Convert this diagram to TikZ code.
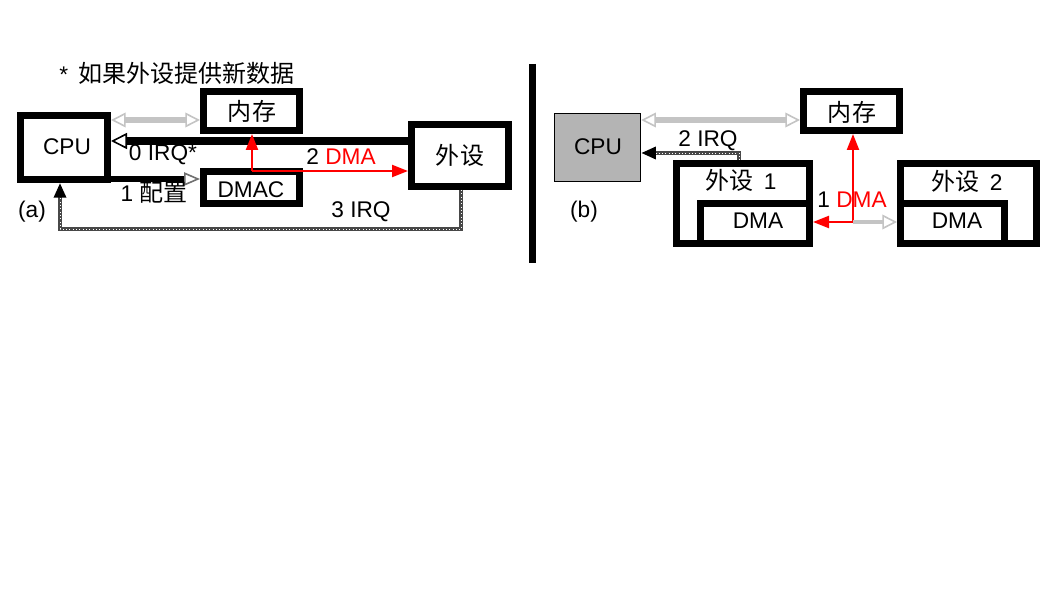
\documentclass[tikz,border=0pt]{standalone}
\usepackage{fontspec}
\setmainfont{Liberation Sans}
\newfontfamily\cjk[Scale=1.06]{Noto Sans CJK SC}
\usetikzlibrary{arrows.meta,calc,fit}
\definecolor{lgray}{HTML}{C4C4C4}
\definecolor{cpugray}{HTML}{B4B4B4}
\definecolor{dgray}{HTML}{484848}
\definecolor{mgray}{HTML}{707070}
\begin{document}
\begin{tikzpicture}[x=0.75pt,y=-0.75pt,
  every node/.style={font=\fontsize{17pt}{20pt}\selectfont, inner sep=0pt},
  tbox/.style={draw=black, line width=5.25pt, rectangle, inner sep=0pt},
  graydbl/.style={draw=lgray, line width=4.8pt,
    {Triangle[open,length=11pt,width=11pt,line width=1.2pt,color=lgray]}-{Triangle[open,length=11pt,width=11pt,line width=1.2pt,color=lgray]}},
  grayone/.style={draw=lgray, line width=3.5pt,
    -{Triangle[open,length=11pt,width=11pt,line width=1.2pt,color=lgray]}},
  redarrow/.style={draw=red, line width=1.6pt, -{Triangle[length=12pt,width=9pt,color=red]}},
  dotline/.style={draw=dgray, line width=2.4pt, -{Triangle[length=11pt,width=9pt,color=black]},
    postaction={draw=white, line width=0.5pt, dotted, -, shorten >=11pt}}
]
\fill[white] (0,0) rectangle (1058,595);
\useasboundingbox (0,0) rectangle (1058,595);

% ---------- (a) ----------
\node[tbox, fit={(20.5,115.5) (107.5,179.5)}] (cpuA) {};
\node[tbox, fit={(203.5,91.5) (299.5,130.5)}] (memA) {};
\node[tbox, fit={(203.5,171.5) (299.5,203.5)}] (dmacA) {};
\node[tbox, fit={(411.5,124.5) (508.5,186.5)}] (perA) {};

\coordinate (ya1) at (0,120);
\coordinate (ya0) at (0,141);
\coordinate (yac) at (0,179);
\coordinate (jA) at (252,171);
\coordinate (irq3a) at (461,229);
\coordinate (irq3b) at (60,229);

\draw[graydbl] (cpuA.east |- ya1) -- (memA.west |- ya1);
\draw[line width=6pt, -{Triangle[open,length=12pt,width=12pt,line width=1.2pt,color=black]}]
  (perA.west |- ya0) -- (cpuA.east |- ya0);
\draw[line width=4.5pt, -{Triangle[open,length=12pt,width=10pt,line width=1.2pt,color=mgray]}]
  (cpuA.east |- yac) -- (dmacA.west |- yac);
\draw[redarrow] (jA) -- (memA.south -| jA);
\draw[redarrow] (jA) -- (perA.west |- jA);
\draw[dotline] (perA.south -| irq3a) -- (irq3a) -- (irq3b) -- (cpuA.south -| irq3b);

\node (note) at (177,73) {*\hspace{0.45em}{\cjk 如果外设提供新数据}};
\node (tcpuA) at (67,147) {CPU};
\node (tmemA) at (252,111) {\cjk 内存};
\node (tdmac) at (251,190) {DMAC};
\node (tperA) at (460,155) {\cjk 外设};
\node (l0) at (163,155) {0 IRQ*};
\node (l1) at (154,193) {1 {\cjk 配置}};
\node (l2) at (341,157) {2 \textcolor{red}{DMA}};
\node (l3) at (361,212) {3 IRQ};
\node (la) at (32,212) {(a)};

% separator
\draw[line width=5.25pt] (532,64) -- (532,263);

% ---------- (b) ----------
\node[draw=black, fill=cpugray, line width=1.1pt, inner sep=0pt, fit={(554.5,113.5) (640.5,181.5)}] (cpuB) {};
\node[tbox, fit={(803.5,91.5) (899.5,130.5)}] (memB) {};
\node[tbox, fit={(676.5,163.5) (809.5,243.5)}] (per1) {};
\node[tbox, fit={(700.5,203.5) (809.5,243.5)}] (dma1) {};
\node[tbox, fit={(900.5,163.5) (1036.5,243.5)}] (per2) {};
\node[tbox, fit={(900.5,203.5) (1004.5,243.5)}] (dma2) {};

\coordinate (yb1) at (0,120);
\coordinate (irq2) at (739,153);
\coordinate (jB) at (853,222);

\draw[graydbl] (cpuB.east |- yb1) -- (memB.west |- yb1);
\draw[dotline] (per1.north -| irq2) -- (irq2) -- (cpuB.east |- irq2);
\draw[redarrow] (jB) -- (memB.south -| jB);
\draw[redarrow] (jB) -- (dma1.east |- jB);
\draw[grayone] (jB) -- (dma2.west |- jB);

\node (tcpuB) at (598,147) {CPU};
\node (tmemB) at (852,112) {\cjk 内存};
\node (tper1) at (741,180) {{\cjk 外设}\hspace{0.45em}1};
\node (tdma1) at (758,221) {DMA};
\node (tper2) at (967,181) {{\cjk 外设}\hspace{0.45em}2};
\node (tdma2) at (957,221) {DMA};
\node (l2b) at (708,141) {2 IRQ};
\node (l1b) at (852,200) {1 \textcolor{red}{DMA}};
\node (lb) at (584,212) {(b)};
\end{tikzpicture}
\end{document}
